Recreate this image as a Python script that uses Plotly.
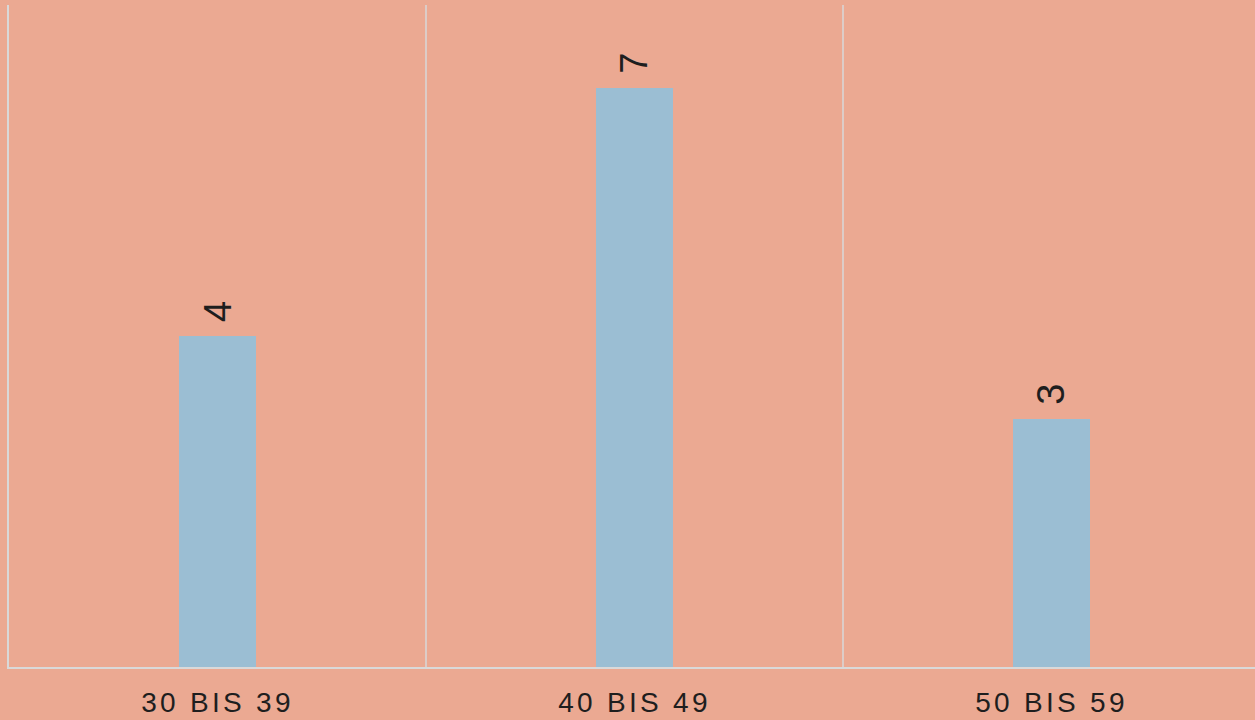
import plotly.graph_objects as go

categories = ["30 BIS 39", "40 BIS 49", "50 BIS 59"]
values = [4, 7, 3]

BG = "#EBA992"
BAR = "#9BBED3"
GRID = "#D9D9D9"
TXT = "#1E1E1E"

xpos = list(range(len(categories)))

fig = go.Figure()
fig.add_trace(go.Bar(
    x=xpos, y=values, width=0.185, marker=dict(color=BAR, line=dict(width=0)),
    hoverinfo="skip", showlegend=False,
))

for xi, v in zip(xpos, values):
    fig.add_annotation(
        x=xi, y=v, text=str(v), textangle=-90, showarrow=False,
        xanchor="center", yanchor="bottom", yshift=12,
        font=dict(family="Liberation Sans, Arial", size=38, color=TXT),
    )

# category separators
for b in [i + 0.5 for i in xpos[:-1]]:
    fig.add_shape(type="line", xref="x", yref="paper", x0=b, x1=b, y0=0, y1=1,
                  line=dict(color=GRID, width=1.5), layer="below")

fig.update_layout(
    width=1255, height=720,
    paper_bgcolor=BG, plot_bgcolor=BG,
    margin=dict(l=9, r=0, t=5, b=53),
    bargap=0,
    xaxis=dict(
        range=[-0.5, 2.488], tickvals=xpos, ticktext=categories,
        showgrid=False, zeroline=False, showline=True, linecolor=GRID, linewidth=1.5,
        ticks="", ticklabelstandoff=10,
        tickfont=dict(family="Liberation Sans, Arial", size=28, color=TXT),
        fixedrange=True,
    ),
    yaxis=dict(
        range=[0, 8], showgrid=False, zeroline=False, showticklabels=False,
        showline=True, linecolor=GRID, linewidth=1.5, ticks="", fixedrange=True,
    ),
)

post = (
    "document.body.style.margin='0';"
    "document.body.style.background='" + BG + "';"
    "document.querySelectorAll('.xtick text').forEach(function(t){"
    "t.style.letterSpacing='3.3px';});"
)

fig.write_html("out.html", config={"displayModeBar": False}, post_script=post)
